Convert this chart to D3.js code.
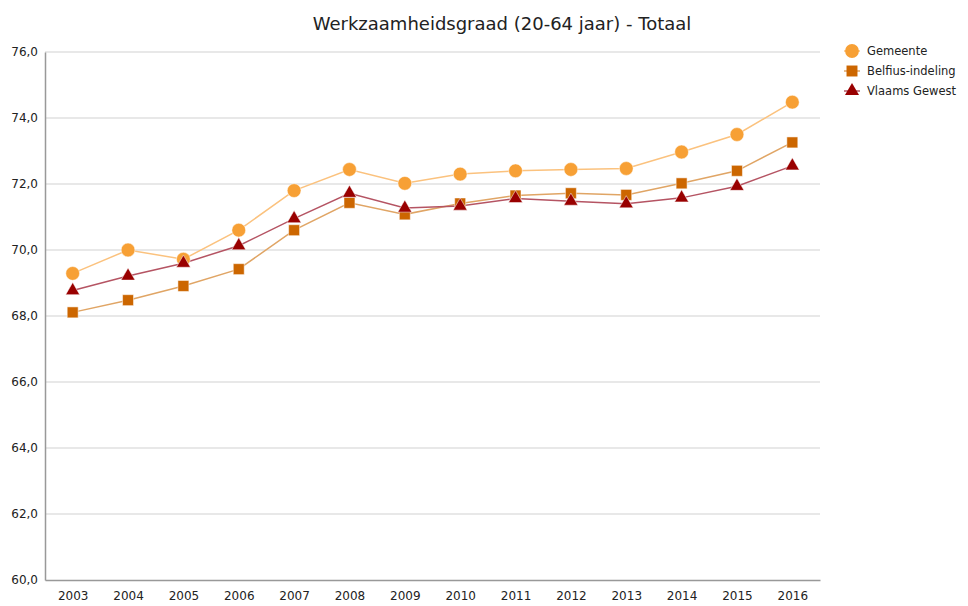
<!DOCTYPE html>
<html>
<head>
<meta charset="utf-8">
<script src="https://cdn.jsdelivr.net/npm/d3@7"></script>
<style>
  body { margin: 0; background: #fff; }
  text { font-family: "DejaVu Sans", Verdana, sans-serif; }
</style>
</head>
<body>
<script>
var years = ["2003","2004","2005","2006","2007","2008","2009","2010","2011","2012","2013","2014","2015","2016"];
var gemeente = [69.29, 70.0, 69.72, 70.6, 71.8, 72.44, 72.02, 72.3, 72.4, 72.44, 72.47, 72.97, 73.5, 74.48];
var belfius  = [68.11, 68.48, 68.91, 69.42, 70.6, 71.43, 71.08, 71.41, 71.65, 71.72, 71.67, 72.02, 72.4, 73.26];
var vlaams   = [68.77, 69.21, 69.6, 70.13, 70.95, 71.72, 71.27, 71.33, 71.56, 71.48, 71.4, 71.58, 71.93, 72.55];
var yTicks = [60, 62, 64, 66, 68, 70, 72, 74, 76];

var series = [
  { name: "Gemeente", values: gemeente, symbol: d3.symbolCircle, size: 150, fill: "#f7a035", line: "#fbc27e" },
  { name: "Belfius-indeling", values: belfius, symbol: d3.symbolSquare, size: 120, fill: "#cc6600", line: "#e0a565" },
  { name: "Vlaams Gewest", values: vlaams, symbol: d3.symbolTriangle, size: 85, fill: "#990000", line: "#b55463" }
];

var margin = { top: 52, right: 148, bottom: 26, left: 45 };
var width = 968 - margin.left - margin.right;
var height = 606 - margin.top - margin.bottom;

var svg = d3.select("body").append("svg")
    .attr("width", 968)
    .attr("height", 606);

svg.append("text")
    .attr("x", 502)
    .attr("y", 30)
    .attr("text-anchor", "middle")
    .attr("font-size", "18px")
    .attr("fill", "#222")
    .text("Werkzaamheidsgraad (20-64 jaar) - Totaal");

var g = svg.append("g")
    .attr("transform", "translate(" + margin.left + "," + margin.top + ")");

var x = d3.scalePoint()
    .domain(years)
    .range([0, width])
    .padding(0.5);

var y = d3.scaleLinear()
    .domain([60, 76])
    .range([height, 0]);

// gridlines
g.selectAll(".grid")
    .data(yTicks.slice(1))
    .enter()
    .append("line")
    .attr("class", "grid")
    .attr("x1", 0)
    .attr("x2", width)
    .attr("y1", function(d) { return y(d); })
    .attr("y2", function(d) { return y(d); })
    .attr("stroke", "#e0e0e0")
    .attr("stroke-width", 1.5);

var yAxis = d3.axisLeft(y)
    .tickValues(yTicks)
    .tickSize(0)
    .tickPadding(7)
    .tickFormat(function(d) { return d3.format(".1f")(d).replace(".", ","); });

var yg = g.append("g").call(yAxis);
yg.select(".domain").attr("stroke", "#999").attr("stroke-width", 1.5);
yg.selectAll("text").attr("font-size", "12px").attr("fill", "#222").style("font-family", "DejaVu Sans, sans-serif");

var xAxis = d3.axisBottom(x)
    .tickSize(0)
    .tickPadding(11);

var xg = g.append("g")
    .attr("transform", "translate(0," + height + ")")
    .call(xAxis);
xg.select(".domain").attr("stroke", "#999").attr("stroke-width", 1.5);
xg.selectAll("text").attr("font-size", "12px").attr("fill", "#222").style("font-family", "DejaVu Sans, sans-serif");

var line = d3.line()
    .x(function(d, i) { return x(years[i]); })
    .y(function(d) { return y(d); });

series.forEach(function(s) {
  g.append("path")
      .datum(s.values)
      .attr("fill", "none")
      .attr("stroke", s.line)
      .attr("stroke-width", 1.5)
      .attr("d", line);
});

series.forEach(function(s) {
  g.selectAll(".pt-" + s.name.replace(/\W/g, ""))
      .data(s.values)
      .enter()
      .append("path")
      .attr("transform", function(d, i) { return "translate(" + x(years[i]) + "," + y(d) + ")"; })
      .attr("d", d3.symbol().type(s.symbol).size(s.size))
      .attr("fill", s.fill)
      .attr("stroke", "#fff")
      .attr("stroke-width", 0.5);
});

// legend
var legend = svg.append("g")
    .attr("transform", "translate(852,51)");

var items = legend.selectAll(".item")
    .data(series)
    .enter()
    .append("g")
    .attr("transform", function(d, i) { return "translate(0," + (i * 20) + ")"; });

items.append("line")
    .attr("x1", -8).attr("x2", 8)
    .attr("stroke", function(d) { return d.line; })
    .attr("stroke-width", 1.5);

items.append("path")
    .attr("d", function(d) { return d3.symbol().type(d.symbol).size(d.size)(); })
    .attr("fill", function(d) { return d.fill; });

items.append("text")
    .attr("x", 15)
    .attr("y", 4)
    .attr("font-size", "11.5px")
    .attr("fill", "#222")
    .text(function(d) { return d.name; });
</script>
</body>
</html>
